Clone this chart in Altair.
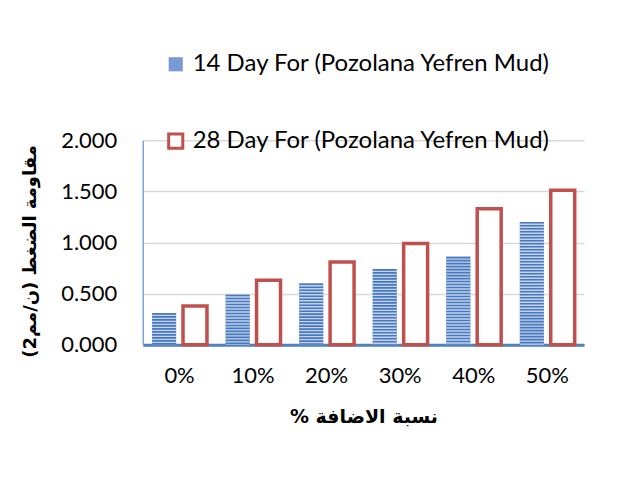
import altair as alt
import pandas as pd

categories = ["0%", "10%", "20%", "30%", "40%", "50%"]
day14 = [0.31, 0.49, 0.60, 0.74, 0.86, 1.20]
day28 = [0.38, 0.63, 0.81, 0.99, 1.33, 1.51]
series = ["14 Day For (Pozolana Yefren Mud)", "28 Day For (Pozolana Yefren Mud)"]

rows = []
for c, v in zip(categories, day14):
    rows.append({"cat": c, "series": series[0], "value": v})
for c, v in zip(categories, day28):
    rows.append({"cat": c, "series": series[1], "value": v})
df = pd.DataFrame(rows)

ytitle = "\u200f" + "مقاومة الضغط (ن/مم2)" + "\u200f"
xtitle = "\u200f" + "نسبة الاضافة %" + "\u200f"

x_enc = alt.X("cat:N", sort=categories, title=xtitle,
              scale=alt.Scale(paddingInner=0.16, paddingOuter=0.08),
              axis=alt.Axis(labelAngle=0, labelFontSize=22, labelPadding=21,
                            labelFont="Lato", labelColor="#000000",
                            titleFont="DejaVu Sans", titleFontSize=19, titleFontWeight="bold",
                            titlePadding=21, titleColor="#000000",
                            domainColor="#4F81BD", domainWidth=3, ticks=False, grid=False))
xo_enc = alt.XOffset("series:N", sort=series, scale=alt.Scale(paddingInner=0, paddingOuter=0))
y_enc = alt.Y("value:Q", title=ytitle,
              scale=alt.Scale(domain=[0, 2]),
              axis=alt.Axis(values=[0, 0.5, 1.0, 1.5, 2.0], format=".3f",
                            labelFontSize=22, labelFont="Lato", labelPadding=26, labelColor="#000000",
                            titleFont="DejaVu Sans", titleFontSize=18, titleFontWeight="bold",
                            titlePadding=21, titleColor="#000000", titleY=111,
                            domainColor="#7FA3D6", domainWidth=1.5, ticks=False,
                            gridColor="#D9D9D9", gridWidth=1.5))

base = alt.Chart(df)

bars = base.mark_bar(size=24, strokeWidth=3.5).encode(
    x=x_enc, xOffset=xo_enc, y=y_enc,
    fill=alt.Fill("series:N", sort=series,
                  scale=alt.Scale(domain=series, range=["#7A9BD1", "#FFFFFF"]),
                  legend=alt.Legend(title=None)),
    stroke=alt.Stroke("series:N", sort=series,
                      scale=alt.Scale(domain=series, range=["transparent", "#C0504D"]),
                      legend=alt.Legend(title=None)),
)

light = base.transform_filter(alt.datum.series == series[0]).mark_rule(
    strokeWidth=24, color="#C0D2EC"
).encode(x=x_enc, xOffset=xo_enc, y=y_enc, y2=alt.datum(0))

stripes = base.transform_filter(alt.datum.series == series[0]).mark_rule(
    strokeWidth=24, color="#4A78BC", strokeDash=[1.6, 1.4]
).encode(x=x_enc, xOffset=xo_enc, y=y_enc, y2=alt.datum(0))

chart = alt.layer(bars, light, stripes).properties(
    width=442, height=205,
    autosize=alt.AutoSizeParams(type="none"),
    padding={"left": 135, "top": 132, "right": 30, "bottom": 120},
).configure_legend(
    orient="none", legendX=21, legendY=-88,
    labelFontSize=24, labelFont="Lato", labelColor="#000000", labelLimit=0,
    symbolType="square", symbolSize=200, symbolStrokeWidth=3,
    rowPadding=49, labelOffset=5,
).configure_view(stroke=None)

chart.save("out.html", embed_options={"renderer": "svg", "actions": False})
